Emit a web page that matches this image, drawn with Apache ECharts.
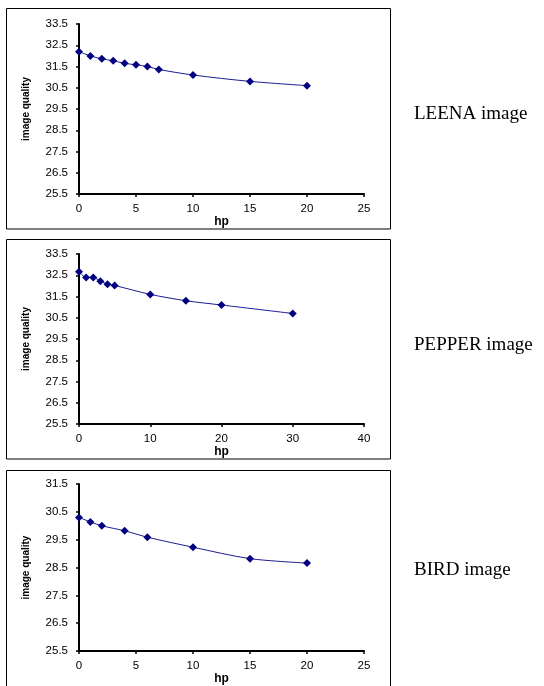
<!DOCTYPE html>
<html>
<head>
    <meta http-equiv="Content-Type" content="text/html; charset=utf-8" />
    <title>image quality vs hp</title>
    <script src="https://cdn.jsdelivr.net/npm/echarts@6/dist/echarts.min.js"></script>
    <style>
        body { margin: 0; background: #fff; }
        #main { width: 544px; height: 686px; }
    </style>
</head>
<body>
    <div id="main"></div>
    <script type="text/javascript">
        // values
        var leenaHp = [0, 1, 2, 3, 4, 5, 6, 7, 10, 15, 20];
        var leenaQ = [32.2, 32.0, 31.86, 31.77, 31.65, 31.58, 31.5, 31.36, 31.1, 30.8, 30.6];

        var pepperHp = [0, 1, 2, 3, 4, 5, 10, 15, 20, 30];
        var pepperQ = [32.67, 32.4, 32.4, 32.22, 32.08, 32.02, 31.6, 31.3, 31.1, 30.7];

        var birdHp = [0, 1, 2, 4, 6, 10, 15, 20];
        var birdQ = [30.3, 30.14, 30.0, 29.82, 29.59, 29.23, 28.82, 28.66];

        var panelNames = ['LEENA image', 'PEPPER image', 'BIRD image'];
        var xMax = [25, 40, 25];
        var xStep = [5, 10, 5];
        var yMin = [25.5, 25.5, 25.5];
        var yMax = [33.5, 33.5, 31.5];

        var gridTops = [24, 254, 484];
        var gridHeights = [170, 170, 172];
        var boxTops = [8.5, 239.5, 470.5];
        var boxBottoms = [229, 459, 690];
        var labelY = [114, 345, 570];

        function pairs(xs, ys) {
            var out = [];
            for (var i = 0; i < xs.length; i++) out.push([xs[i], ys[i]]);
            return out;
        }
        var seriesData = [pairs(leenaHp, leenaQ), pairs(pepperHp, pepperQ), pairs(birdHp, birdQ)];

        var tickFont = { fontFamily: 'Liberation Sans', fontSize: 11.5, color: '#000' };

        var grids = [], xAxes = [], yAxes = [], series = [], graphics = [];
        for (var k = 0; k < 3; k++) {
            grids.push({ left: 79, top: gridTops[k], width: 285, height: gridHeights[k] });
            xAxes.push({
                gridIndex: k,
                type: 'value',
                min: 0,
                max: xMax[k],
                interval: xStep[k],
                name: 'hp',
                nameLocation: 'middle',
                nameGap: 15,
                nameTextStyle: { fontFamily: 'Liberation Sans', fontSize: 12, fontWeight: 'bold', color: '#000' },
                axisLine: { onZero: false, lineStyle: { color: '#000', width: 2 } },
                axisTick: { show: true, length: 3, lineStyle: { color: '#000', width: 1.5 } },
                axisLabel: Object.assign({ margin: 9 }, tickFont),
                splitLine: { show: false }
            });
            yAxes.push({
                gridIndex: k,
                type: 'value',
                min: yMin[k],
                max: yMax[k],
                interval: 1,
                name: 'image quality',
                nameLocation: 'middle',
                nameGap: 48,
                nameRotate: 90,
                nameTextStyle: { fontFamily: 'Liberation Sans', fontSize: 10, fontWeight: 'bold', color: '#000' },
                axisLine: { show: true, onZero: false, lineStyle: { color: '#000', width: 2 } },
                axisTick: { show: true, length: 3, lineStyle: { color: '#000', width: 1.5 } },
                axisLabel: Object.assign({ margin: 11 }, tickFont),
                splitLine: { show: false }
            });
            series.push({
                type: 'line',
                xAxisIndex: k,
                yAxisIndex: k,
                data: seriesData[k],
                smooth: 0.3,
                symbol: 'diamond',
                symbolSize: [8, 8],
                itemStyle: { color: '#000080' },
                lineStyle: { color: '#1c1c90', width: 1 },
                animation: false
            });
            graphics.push({
                type: 'rect',
                shape: { x: 6.5, y: boxTops[k], width: 384, height: boxBottoms[k] - boxTops[k] },
                style: { fill: null, stroke: '#000', lineWidth: 1 },
                z: 0
            });
            graphics.push({
                type: 'text',
                x: 414,
                y: labelY[k],
                style: {
                    text: panelNames[k],
                    fontFamily: 'Liberation Serif',
                    fontSize: 19,
                    fill: '#000',
                    verticalAlign: 'middle'
                }
            });
        }

        var myChart = echarts.init(document.getElementById('main'));
        var option = {
            backgroundColor: '#fff',
            animation: false,
            grid: grids,
            xAxis: xAxes,
            yAxis: yAxes,
            series: series,
            graphic: graphics
        };
        myChart.setOption(option);
    </script>
</body>
</html>
